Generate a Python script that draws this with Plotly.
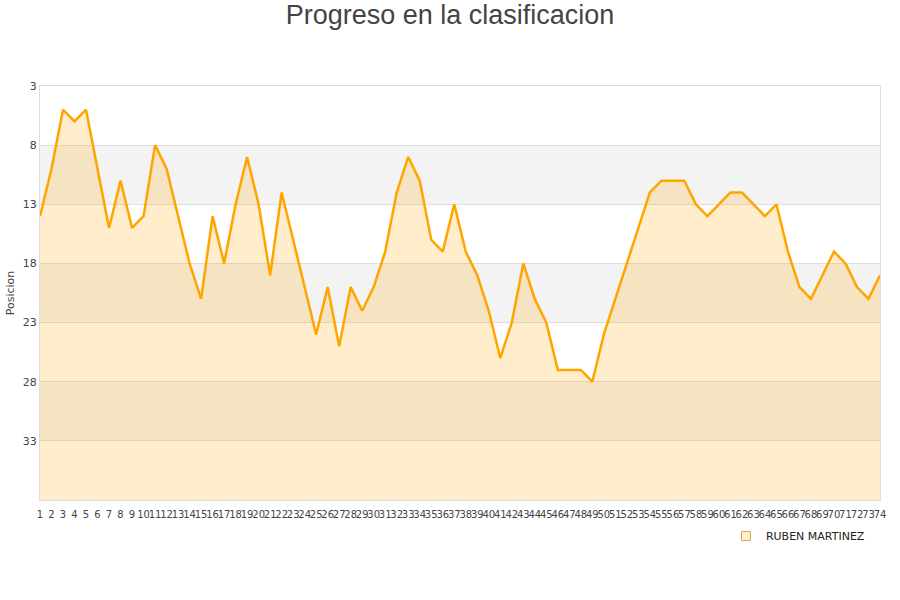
import plotly.graph_objects as go

jornadas = list(range(1, 75))
posiciones = [14, 10, 5, 6, 5, 10, 15, 11, 15, 14,
              8, 10, 14, 18, 21, 14, 18, 13, 9, 13,
              19, 12, 16, 20, 24, 20, 25, 20, 22, 20,
              17, 12, 9, 11, 16, 17, 13, 17, 19, 22,
              26, 23, 18, 21, 23, 27, 27, 27, 28, 24,
              21, 18, 15, 12, 11, 11, 11, 13, 14, 13,
              12, 12, 13, 14, 13, 17, 20, 21, 19, 17,
              18, 20, 21, 19]
y_ticks = [3, 8, 13, 18, 23, 28, 33]
band_ranges = [(8, 13), (18, 23), (28, 33)]
serie = "RUBEN MARTINEZ"
y_bottom = 38

fig = go.Figure()
fig.add_trace(go.Scatter(x=jornadas, y=[y_bottom] * len(jornadas), mode="lines",
                         line=dict(width=0, color="rgba(0,0,0,0)"),
                         hoverinfo="skip", showlegend=False))
fig.add_trace(go.Scatter(x=jornadas, y=posiciones, mode="lines", fill="tonexty",
                         fillcolor="rgba(255,165,0,0.2)",
                         line=dict(color="#FFA500", width=2.5),
                         name=serie, showlegend=False))
fig.add_trace(go.Scatter(x=[None], y=[None], mode="markers", name=serie,
                         marker=dict(symbol="square", size=9,
                                     color="rgba(255,165,0,0.2)",
                                     line=dict(color="#d9a55a", width=1))))

for a, b in band_ranges:
    fig.add_shape(type="rect", xref="paper", x0=0, x1=1, yref="y", y0=a, y1=b,
                  fillcolor="#f3f3f3", line=dict(width=0), layer="below")

fig.update_layout(
    width=900, height=600,
    paper_bgcolor="white", plot_bgcolor="white",
    margin=dict(l=40, r=20, t=86, b=100, autoexpand=False),
    title=dict(text="Progreso en la clasificacion", x=0.5, xanchor="center",
               y=1 - 15 / 600, yanchor="middle", yref="container",
               font=dict(family="Liberation Sans, Arial, sans-serif", size=27, color="#444")),
    font=dict(family="DejaVu Sans, sans-serif", color="#444"),
    showlegend=True,
    legend=dict(orientation="h", x=0.988, xanchor="right", y=-0.087, yanchor="middle",
                font=dict(size=11, color="#222"), bgcolor="rgba(0,0,0,0)"),
    xaxis=dict(range=[1, 74], tickmode="array", tickvals=jornadas,
               ticktext=[str(j) for j in jornadas], tickangle=0, automargin=False,
               tickfont=dict(size=10, color="#444"), showgrid=False, zeroline=False,
               showline=True, linecolor="#dddddd", mirror=True, ticks="",
               ticklabelstandoff=5),
    yaxis=dict(range=[y_bottom, 3], tickmode="array", tickvals=y_ticks, automargin=False,
               tickfont=dict(size=11, color="#444"), showgrid=True, gridcolor="#dddddd",
               zeroline=False, showline=True, linecolor="#dddddd", mirror=True,
               title=dict(text="Posicion", font=dict(size=11, color="#444"), standoff=5),
               ticks=""),
)

fig.write_html("out.html", config={"displayModeBar": False},
               post_script="document.body.style.margin='0';document.body.style.overflow='hidden';")
